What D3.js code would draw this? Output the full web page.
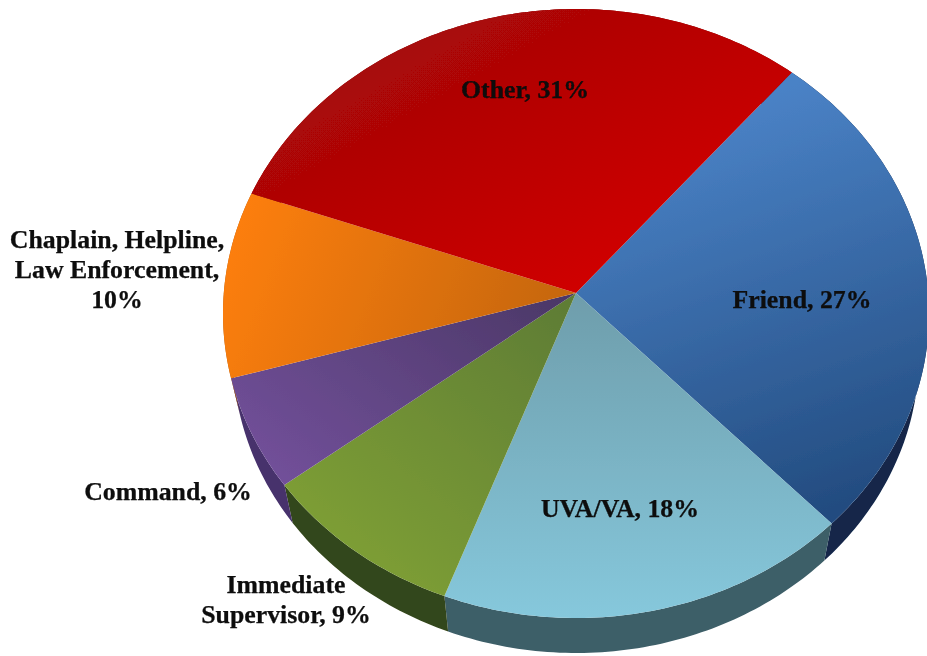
<!DOCTYPE html>
<html>
<head>
<meta charset="utf-8">
<script src="https://cdnjs.cloudflare.com/ajax/libs/d3/7.8.5/d3.min.js"></script>
<style>
  html, body { margin: 0; padding: 0; background: #fff; }
  svg { display: block; }
  text { font-family: "Liberation Serif", serif; font-weight: bold; fill: #0b0b0b; stroke: #0b0b0b; stroke-width: 0.25px; }
</style>
</head>
<body>
<div id="chart"></div>
<script>
// Chart data
let categories = ["Friend", "UVA/VA", "Immediate Supervisor", "Command", "Chaplain, Helpline, Law Enforcement", "Other"];
let values = [27, 18, 9, 6, 10, 31];
let label_lines = [
  ["Friend, 27%"],
  ["UVA/VA, 18%"],
  ["Immediate", "Supervisor, 9%"],
  ["Command, 6%"],
  ["Chaplain, Helpline,", "Law Enforcement,", "10%"],
  ["Other, 31%"]
];

// Colours for each slice: gradient start, gradient end, side wall
let top_from = ["#4a82c6", "#6e9dab", "#5f7d34", "#4c3868", "#fc7e0e", "#a40808"];
let top_to = ["#234c80", "#86c8dc", "#7e9f36", "#72509a", "#c4660f", "#d00000"];
let side_colors = ["#12264a", "#3d5e68", "#33461a", "#46306c", "#a85a10", "#800808"];
// Gradient direction of each slice (bounding box units)
let grad_dir = [[0.35, 0.1, 0.6, 1], [0.5, 0, 0.5, 1], [0.9, 0, 0.2, 0.9], [1, 0.1, 0, 0.8], [0, 0.4, 1, 0.6], [0.15, 0.2, 0.8, 0.8]];

// Where each label sits (centre x, first baseline y)
let label_pos = [[802, 308], [620, 517], [286, 593], [168, 500], [117, 248], [525, 98]];

let width = 927;
let height = 656;

// Top face and bottom rim are ellipses, apex of the pie sits above the ellipse centre
let top_face = {cx: 576, cy: 313.5, rx: 353, ry: 304.5};
let bottom_rim = {cx: 576, cy: 355, rx: 343, ry: 298};
let k = -0.0673;
let start_angle = 40.1 * Math.PI / 180;

// Perspective: move the circle's centre towards the back of the ellipse
function project(a, r, e) {
  let x = r * Math.sin(a);
  let y = -r * Math.cos(a);
  let w = 1 + k * y;
  return [e.cx + e.rx * x * Math.sqrt(1 - k * k) / w,
          e.cy + e.ry * (y + k) / w];
}

function arc_points(d, e) {
  let n = Math.ceil((d.endAngle - d.startAngle) * 60);
  return d3.range(n + 1).map(function(i) {
    return project(d.startAngle + (d.endAngle - d.startAngle) * i / n, 1, e);
  });
}

let pie = d3.pie()
            .sort(null)
            .startAngle(start_angle)
            .endAngle(start_angle + 2 * Math.PI);
let slices = pie(values);
let line = d3.line();

let svg = d3.select("#chart")
            .append("svg")
            .attr("width", width)
            .attr("height", height);

let defs = svg.append("defs");

defs.append("filter")
    .attr("id", "soft")
    .append("feGaussianBlur")
    .attr("stdDeviation", 0.6);

defs.append("filter")
    .attr("id", "soft_text")
    .append("feGaussianBlur")
    .attr("stdDeviation", 0.4);

defs.selectAll("linearGradient")
    .data(categories)
    .enter()
    .append("linearGradient")
    .attr("id", (d, i) => "grad" + i)
    .attr("x1", (d, i) => grad_dir[i][0])
    .attr("y1", (d, i) => grad_dir[i][1])
    .attr("x2", (d, i) => grad_dir[i][2])
    .attr("y2", (d, i) => grad_dir[i][3])
    .selectAll("stop")
    .data((d, i) => [[0, top_from[i]], [1, top_to[i]]])
    .enter()
    .append("stop")
    .attr("offset", d => d[0])
    .attr("stop-color", d => d[1]);

let pie_g = svg.append("g").attr("filter", "url(#soft)");

// Side walls first so the top face covers the hidden parts
pie_g.append("g")
     .selectAll("path")
     .data(slices)
     .enter()
     .append("path")
     .attr("d", function(d) {
       return line(arc_points(d, top_face).concat(arc_points(d, bottom_rim).reverse())) + "Z";
     })
     .style("fill", (d, i) => side_colors[i]);

pie_g.append("g")
     .selectAll("path")
     .data(slices)
     .enter()
     .append("path")
     .attr("d", function(d) {
       return line([project(0, 0, top_face)].concat(arc_points(d, top_face))) + "Z";
     })
     .style("fill", (d, i) => "url(#grad" + i + ")");

let labels = svg.append("g")
                .attr("filter", "url(#soft_text)")
                .selectAll("text")
                .data(label_lines)
                .enter()
                .append("text")
                .attr("text-anchor", "middle")
                .style("font-size", "25.8px");

labels.selectAll("tspan")
      .data((d, i) => d.map(t => ({t: t, p: label_pos[i]})))
      .enter()
      .append("tspan")
      .attr("x", d => d.p[0])
      .attr("y", (d, i) => d.p[1] + i * 30)
      .text(d => d.t);
</script>
</body>
</html>
